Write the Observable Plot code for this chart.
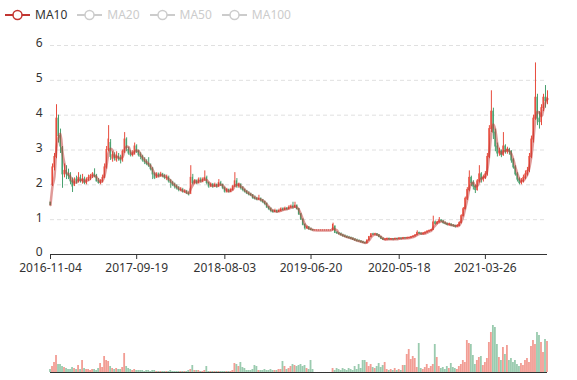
<!DOCTYPE html>
<html><head><meta charset="utf-8">
<script src="https://cdn.jsdelivr.net/npm/d3@7"></script>
<script src="https://cdn.jsdelivr.net/npm/@observablehq/plot@0.6"></script>
<style>
body{margin:0;background:#fff;font-family:"Noto Sans",sans-serif;}
#legend{height:30px;display:flex;align-items:center;padding-left:5px;font-size:12px;box-sizing:border-box;}
.item{display:flex;align-items:center;margin-right:10px;line-height:14px;}
.item svg{margin-right:5px;display:block;}
#price svg,#volume svg{display:block;}
</style></head><body>
<div id="legend"></div>
<div id="price"></div>
<div id="volume"></div>
<script>
// Weekly-sampled candles (index = sample number)
const open=[1.49,2.00,2.50,2.80,3.90,3.40,3.05,2.30,2.40,2.30,2.25,2.10,1.98,2.15,2.10,2.20,2.10,2.15,2.05,2.15,2.20,2.25,2.30,2.25,2.10,2.05,2.10,2.20,2.50,3.00,3.20,2.75,2.85,2.70,2.80,2.75,2.70,2.95,3.30,3.00,2.90,2.85,2.90,3.10,2.95,2.85,2.80,2.70,2.65,2.60,2.55,2.45,2.30,2.20,2.30,2.25,2.30,2.25,2.20,2.20,2.10,2.05,2.00,1.95,1.90,1.85,1.85,1.80,1.80,1.75,1.75,2.20,2.05,2.10,2.05,2.15,2.10,2.15,2.20,2.05,1.95,2.00,1.95,2.00,1.95,2.05,2.00,1.90,1.80,1.85,1.80,1.85,1.95,2.10,1.95,2.00,1.90,1.85,1.80,1.75,1.72,1.70,1.62,1.60,1.58,1.60,1.55,1.50,1.45,1.35,1.30,1.25,1.22,1.25,1.22,1.25,1.30,1.28,1.32,1.30,1.35,1.38,1.35,1.40,1.30,1.15,1.00,0.85,0.75,0.78,0.72,0.70,0.69,0.69,0.69,0.69,0.69,0.69,0.69,0.69,0.69,0.69,0.80,0.62,0.60,0.58,0.55,0.52,0.50,0.48,0.47,0.45,0.42,0.40,0.38,0.37,0.35,0.33,0.32,0.40,0.50,0.58,0.57,0.58,0.55,0.50,0.45,0.42,0.43,0.45,0.43,0.44,0.43,0.45,0.44,0.46,0.45,0.47,0.46,0.47,0.48,0.50,0.52,0.55,0.62,0.60,0.58,0.60,0.63,0.66,0.68,0.70,0.92,0.88,0.92,0.98,0.95,0.90,0.88,0.85,0.86,0.83,0.82,0.80,0.82,0.90,1.10,1.30,1.60,1.85,2.20,2.05,1.95,1.85,2.10,2.30,2.15,2.20,2.30,2.80,3.60,4.10,3.50,3.10,2.90,2.95,2.85,3.10,2.95,3.00,2.95,2.70,2.50,2.30,2.15,2.05,2.10,2.20,2.30,2.40,2.80,3.30,3.90,4.50,3.90,3.80,4.20,4.50,4.40];
const high=[1.50,2.60,2.90,4.30,4.00,3.60,3.10,2.60,2.55,2.45,2.35,2.20,2.20,2.25,2.35,2.28,2.30,2.22,2.20,2.28,2.30,2.35,2.46,2.30,2.18,2.15,2.28,2.60,3.10,3.70,3.30,2.95,2.92,2.95,2.90,2.85,3.00,3.50,3.35,3.08,2.98,2.98,3.20,3.15,3.00,2.92,2.85,2.78,2.72,2.78,2.60,2.50,2.35,2.35,2.34,2.36,2.33,2.30,2.28,2.25,2.15,2.10,2.05,2.00,1.95,1.92,1.90,1.86,1.84,1.80,2.55,2.30,2.15,2.14,2.20,2.20,2.20,2.40,2.25,2.08,2.05,2.04,2.05,2.02,2.15,2.10,2.02,1.94,1.90,1.88,1.90,1.98,2.35,2.18,2.05,2.03,1.95,1.88,1.84,1.80,1.76,1.72,1.68,1.64,1.70,1.62,1.58,1.53,1.48,1.38,1.34,1.28,1.30,1.28,1.30,1.34,1.34,1.36,1.35,1.40,1.42,1.50,1.50,1.42,1.32,1.18,1.02,0.88,0.82,0.80,0.76,0.72,0.69,0.69,0.69,0.69,0.69,0.69,0.69,0.69,0.69,0.90,0.82,0.66,0.63,0.62,0.58,0.56,0.54,0.52,0.50,0.48,0.46,0.44,0.42,0.40,0.38,0.36,0.42,0.52,0.60,0.61,0.61,0.60,0.57,0.52,0.48,0.46,0.47,0.47,0.46,0.46,0.47,0.47,0.48,0.48,0.49,0.49,0.50,0.50,0.52,0.54,0.57,0.68,0.64,0.62,0.63,0.65,0.68,0.70,0.72,1.10,0.96,0.95,1.06,1.00,0.97,0.93,0.90,0.90,0.88,0.86,0.84,0.86,0.94,1.14,1.35,1.65,1.92,2.40,2.25,2.12,2.00,2.15,2.55,2.35,2.28,2.38,2.90,3.70,4.70,4.20,3.60,3.20,3.05,3.00,3.50,3.15,3.08,3.05,2.98,2.75,2.55,2.35,2.20,2.18,2.28,2.40,2.50,2.90,3.40,4.00,5.50,4.60,4.10,4.30,4.60,4.85,4.70];
const low=[1.40,1.95,2.40,2.75,3.20,2.90,1.90,2.20,2.15,2.15,2.00,1.78,1.95,2.02,2.05,2.05,2.02,2.00,2.00,2.10,2.12,2.18,2.20,2.08,2.02,2.00,2.05,2.18,2.45,2.95,2.70,2.65,2.68,2.65,2.68,2.60,2.65,2.90,2.95,2.85,2.80,2.80,2.85,2.90,2.80,2.72,2.65,2.58,2.55,2.50,2.40,2.15,2.15,2.18,2.20,2.22,2.20,2.15,2.12,2.05,1.90,1.95,1.88,1.85,1.80,1.80,1.76,1.75,1.72,1.68,1.72,2.00,2.00,2.00,2.02,2.05,2.06,2.10,2.00,1.90,1.92,1.90,1.92,1.90,1.92,1.95,1.86,1.76,1.76,1.76,1.77,1.82,1.92,1.90,1.90,1.85,1.80,1.76,1.72,1.68,1.66,1.58,1.56,1.54,1.55,1.50,1.46,1.40,1.32,1.26,1.20,1.18,1.20,1.18,1.20,1.22,1.24,1.25,1.26,1.28,1.32,1.30,1.32,1.28,1.12,0.98,0.82,0.70,0.72,0.70,0.68,0.68,0.69,0.69,0.69,0.69,0.69,0.69,0.69,0.69,0.69,0.68,0.60,0.58,0.56,0.53,0.50,0.48,0.46,0.44,0.42,0.40,0.38,0.36,0.35,0.33,0.31,0.30,0.31,0.39,0.48,0.54,0.54,0.52,0.48,0.43,0.40,0.39,0.40,0.40,0.40,0.40,0.41,0.41,0.42,0.42,0.43,0.44,0.44,0.45,0.46,0.48,0.50,0.54,0.57,0.55,0.56,0.58,0.61,0.64,0.66,0.69,0.84,0.85,0.90,0.92,0.87,0.85,0.82,0.82,0.80,0.78,0.76,0.78,0.80,0.88,1.08,1.28,1.55,1.80,1.95,1.85,1.75,1.82,2.05,2.05,2.08,2.15,2.25,2.75,3.50,3.30,2.95,2.80,2.82,2.78,2.82,2.88,2.88,2.85,2.62,2.45,2.25,2.08,2.00,2.00,2.05,2.15,2.25,2.35,2.75,3.20,3.85,3.70,3.60,3.70,4.10,4.20,4.30];
const close=[1.42,2.50,2.80,3.90,3.40,3.10,2.30,2.40,2.30,2.25,2.10,1.95,2.15,2.10,2.20,2.10,2.15,2.05,2.15,2.20,2.25,2.30,2.25,2.10,2.05,2.10,2.20,2.50,3.00,3.30,2.80,2.85,2.75,2.85,2.75,2.70,2.95,3.30,3.05,2.90,2.85,2.90,3.10,2.95,2.85,2.80,2.70,2.65,2.60,2.55,2.45,2.30,2.20,2.30,2.25,2.30,2.25,2.20,2.20,2.10,2.05,2.00,1.95,1.90,1.85,1.85,1.80,1.80,1.75,1.72,2.20,2.05,2.10,2.05,2.15,2.10,2.15,2.20,2.05,1.95,2.00,1.95,2.00,1.95,2.05,2.00,1.90,1.80,1.85,1.80,1.85,1.95,2.10,1.95,2.00,1.90,1.85,1.80,1.75,1.72,1.70,1.62,1.60,1.58,1.60,1.55,1.50,1.45,1.35,1.30,1.25,1.22,1.25,1.22,1.25,1.30,1.28,1.32,1.30,1.35,1.38,1.35,1.40,1.30,1.15,1.00,0.85,0.75,0.78,0.72,0.70,0.69,0.69,0.69,0.69,0.69,0.69,0.69,0.69,0.69,0.69,0.85,0.62,0.60,0.58,0.55,0.52,0.50,0.48,0.47,0.45,0.42,0.40,0.38,0.37,0.35,0.33,0.32,0.40,0.50,0.58,0.57,0.58,0.55,0.50,0.45,0.42,0.43,0.45,0.43,0.44,0.43,0.45,0.44,0.46,0.45,0.47,0.46,0.47,0.48,0.50,0.52,0.55,0.62,0.60,0.58,0.60,0.63,0.66,0.68,0.70,0.92,0.88,0.92,0.98,0.95,0.90,0.88,0.85,0.86,0.83,0.82,0.80,0.82,0.90,1.10,1.30,1.60,1.85,2.20,2.05,1.95,1.85,2.10,2.30,2.15,2.20,2.30,2.80,3.60,4.10,3.50,3.10,2.90,2.95,2.85,3.10,2.95,3.00,2.95,2.70,2.50,2.30,2.15,2.05,2.10,2.20,2.30,2.40,2.80,3.30,3.90,4.50,3.90,3.80,4.20,4.50,4.40,4.50];
const volume=[3,6,10,17,8,8,6,5,4,3,3,5,4,3,7,3,12,4,3,3,2,3,3,2,4,9,5,16,12,11,6,4,3,4,3,3,5,19,6,4,3,2,3,2,2,2,2,1,2,2,1,2,2,1,1,1,1,1,1,1,2,1,1,1,1,1,1,1,1,2,3,7,2,2,2,1,1,2,6,1,1,1,1,1,1,1,1,1,1,1,1,2,9,8,6,10,5,4,2,2,2,3,7,6,2,2,2,3,2,2,3,2,2,2,3,3,11,6,3,4,6,8,7,6,7,8,6,7,4,3,12,3,0,0,0,0,0,0,0,0,0,4,2,4,3,2,4,3,2,4,3,2,6,3,8,4,12,12,10,6,8,5,4,6,9,5,7,10,3,2,3,2,4,2,3,2,7,7,18,23,13,16,14,5,29,4,3,5,8,4,6,8,28,15,6,4,5,3,6,4,9,5,4,3,6,8,12,10,32,29,28,17,8,12,15,16,7,10,14,30,40,47,45,28,15,12,25,18,27,12,14,10,12,8,6,9,7,12,14,10,26,32,28,40,37,30,20,33,31];
const tickIndex=[0,43,87,130,174,217];
const tickLabels=["2016-11-04","2017-09-19","2018-08-03","2019-06-20","2020-05-18","2021-03-26"];
const legendNames=["MA10","MA20","MA50","MA100"];
const legendActive=[true,false,false,false];
const yTicks=[0,1,2,3,4,5,6];

const upColor="#e84c3d", downColor="#47a06e", maColor="#c23531", inactive="#cccccc", ink="#333333";

const candles=open.map((o,i)=>({i,open:o,high:high[i],low:low[i],close:close[i],volume:volume[i],col:close[i]>=o?upColor:downColor}));

// legend
const lg=document.getElementById("legend");
legendNames.forEach((name,k)=>{
  const c=legendActive[k]?maColor:inactive;
  const it=document.createElement("div");it.className="item";
  it.innerHTML=`<svg width="25" height="14"><line x1="0" x2="25" y1="7" y2="7" stroke="${c}" stroke-width="2"/><circle cx="12.5" cy="7" r="4.5" fill="#fff" stroke="${c}" stroke-width="1.5"/></svg>`;
  const t=document.createElement("span");t.textContent=name;t.style.color=legendActive[k]?ink:inactive;
  it.appendChild(t);lg.appendChild(it);
});

const common={width:577,marginLeft:50,marginRight:30};
const price=Plot.plot({...common,height:250,marginTop:15,marginBottom:26,
  style:{fontFamily:"'Noto Sans',sans-serif",fontSize:"12px",color:ink,background:"#fff",overflow:"visible"},
  x:{domain:[0,open.length-1],axis:null},
  y:{domain:[0,6],axis:null},
  color:{type:"identity"},
  marks:[
    Plot.ruleY(yTicks.slice(1),{stroke:"#e0e0e0",strokeDasharray:"4,3"}),
    Plot.axisY({ticks:yTicks,tickFormat:d=>String(d),tickSize:0,tickPadding:8,label:null,fontSize:12,dy:-2}),
    Plot.ruleX(candles,{x:"i",y1:"low",y2:"high",stroke:"col",strokeWidth:1}),
    Plot.rect(candles,{x1:d=>d.i-0.3,x2:d=>d.i+0.3,y1:"open",y2:"close",fill:"col",insetTop:-0.5,insetBottom:-0.5}),
    Plot.lineY(candles,Plot.windowY({k:3,anchor:"end"},{x:"i",y:"close",stroke:maColor,strokeOpacity:0.5,strokeWidth:2.5,curve:"monotone-x"})),
    Plot.ruleY([0],{stroke:ink}),
    Plot.axisX({ticks:tickIndex,tickFormat:d=>tickLabels[tickIndex.indexOf(d)],tickSize:5,tickPadding:4,label:null,stroke:ink,fontSize:12})
  ]
});
document.getElementById("price").appendChild(price);

const vol=Plot.plot({...common,height:100,marginTop:12,marginBottom:8,
  style:{background:"#fff"},
  x:{domain:[0,open.length-1],axis:null},
  y:{domain:[0,80],axis:null},
  color:{type:"identity"},
  marks:[
    Plot.rect(candles,{x1:d=>d.i-0.45,x2:d=>d.i+0.45,y1:0,y2:"volume",fill:"col",fillOpacity:0.55}),
    Plot.ruleY([0],{stroke:ink,strokeWidth:1.2})
  ]
});
document.getElementById("volume").appendChild(vol);
</script>
</body></html>
